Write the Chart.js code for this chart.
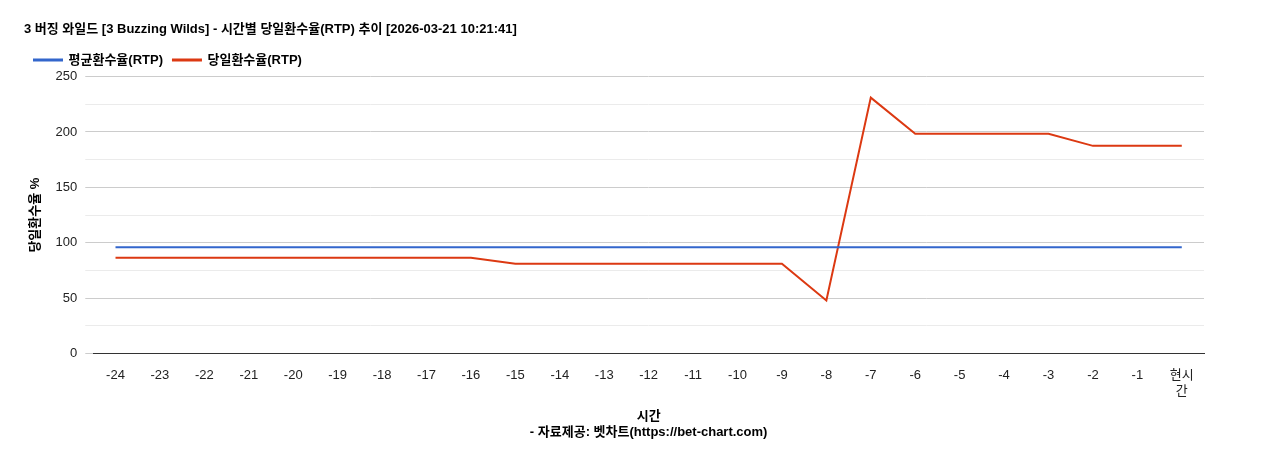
<!DOCTYPE html>
<html>
<head>
<meta charset="utf-8">
<script src="https://cdn.jsdelivr.net/npm/chart.js@4"></script>
<style>
  html, body { margin: 0; padding: 0; background: #fff; }
  #wrap { width: 1268px; height: 450px; }
</style>
</head>
<body>
<div id="wrap"><canvas id="rtp"></canvas></div>
<script>
const hours = ['-24','-23','-22','-21','-20','-19','-18','-17','-16','-15','-14','-13','-12','-11','-10','-9','-8','-7','-6','-5','-4','-3','-2','-1',['현시','간']];
const avgRtp = [96,96,96,96,96,96,96,96,96,96,96,96,96,96,96,96,96,96,96,96,96,96,96,96,96];
const dayRtp = [86.5,86.5,86.5,86.5,86.5,86.5,86.5,86.5,86.5,81,81,81,81,81,81,81,48,231,198.5,198.5,198.5,198.5,187.5,187.5,187.5];

Chart.defaults.font.family = "'Liberation Sans', 'Noto Sans CJK KR', sans-serif";
Chart.defaults.color = '#222';

new Chart('rtp', {
    type: 'line',
    data: {
        labels: hours,
        datasets: [{
            label: '평균환수율(RTP)',
            data: avgRtp,
            borderColor: '#3366cc',
            backgroundColor: '#3366cc',
            borderWidth: 2,
            pointRadius: 0,
            tension: 0
        }, {
            label: '당일환수율(RTP)',
            data: dayRtp,
            borderColor: '#dc3912',
            backgroundColor: '#dc3912',
            borderWidth: 2,
            pointRadius: 0,
            tension: 0
        }]
    },
    options: {
        responsive: true,
        maintainAspectRatio: false,
        animation: false,
        layout: { padding: { left: 24, right: 64, top: 22, bottom: 6 } },
        plugins: {
            title: {
                display: true,
                text: '3 버징 와일드 [3 Buzzing Wilds] - 시간별 당일환수율(RTP) 추이 [2026-03-21 10:21:41]',
                align: 'start',
                font: { size: 13, weight: 'bold' },
                color: '#000',
                padding: { top: 0, bottom: 6 }
            },
            legend: {
                align: 'start',
                labels: {
                    boxWidth: 28, boxHeight: 1,
                    padding: 10,
                    font: { size: 13, weight: 'bold' },
                    color: '#000'
                }
            },
            tooltip: { enabled: false }
        },
        scales: {
            x: {
                offset: true,
                grid: { display: false },
                border: { color: '#333' },
                ticks: { font: { size: 13 }, color: '#222', maxRotation: 0, autoSkip: false, padding: 6 },
                title: {
                    display: true,
                    text: ['시간', '- 자료제공: 벳차트(https://bet-chart.com)'],
                    font: { size: 13, weight: 'bold' },
                    color: '#000',
                    padding: { top: 4 }
                }
            },
            y: {
                min: 0, max: 250,
                border: { display: false },
                grid: {
                    color: ctx => (ctx.tick && ctx.tick.value % 50 === 0) ? '#cccccc' : '#ebebeb'
                },
                ticks: {
                    stepSize: 25,
                    font: { size: 13 },
                    color: '#222',
                    padding: 8,
                    callback: v => v % 50 === 0 ? v : ''
                },
                title: {
                    display: true,
                    text: '당일환수율 %',
                    font: { size: 13, weight: 'bold' },
                    color: '#000'
                }
            }
        }
    }
});
</script>
</body>
</html>
